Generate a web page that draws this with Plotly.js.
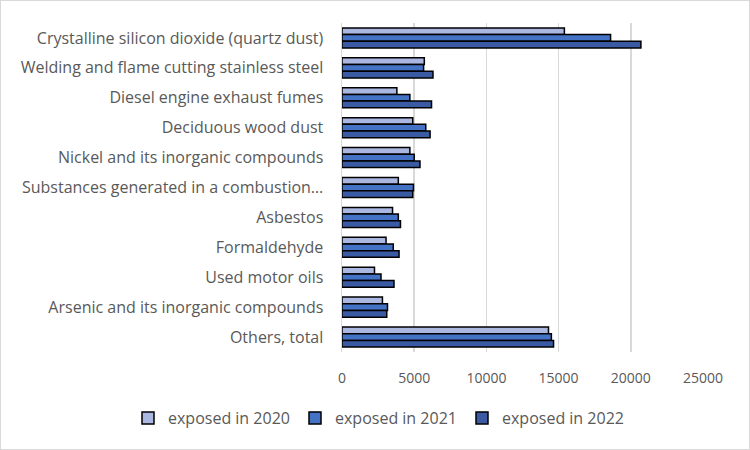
<!DOCTYPE html>
<html>
<head>
<meta charset="utf-8">
<script src="https://cdn.plot.ly/plotly-3.0.1.min.js"></script>
<style>
  html, body { margin: 0; padding: 0; background: #fff; }
  #wrap { position: relative; width: 750px; height: 450px; }
  #chart { width: 750px; height: 450px; }
  #frame { position: absolute; left: 0; top: 0; width: 748px; height: 448px; border: 1px solid #d9d9d9; pointer-events: none; }
</style>
</head>
<body>
<div id="wrap"><div id="chart"></div><div id="frame"></div></div>
<script>
const categories = [
  "Crystalline silicon dioxide (quartz dust)",
  "Welding and flame cutting stainless steel",
  "Diesel engine exhaust fumes",
  "Deciduous wood dust",
  "Nickel and its inorganic compounds",
  "Substances generated in a combustion…",
  "Asbestos",
  "Formaldehyde",
  "Used motor oils",
  "Arsenic and its inorganic compounds",
  "Others, total"
];
const exposed2020 = [15400, 5700, 3800, 4900, 4700, 3900, 3500, 3050, 2250, 2800, 14300];
const exposed2021 = [18600, 5650, 4700, 5800, 5000, 4950, 3900, 3550, 2700, 3150, 14500];
const exposed2022 = [20700, 6300, 6200, 6100, 5400, 4900, 4050, 3950, 3600, 3100, 14650];
const seriesNames = ["exposed in 2020", "exposed in 2021", "exposed in 2022"];
const xTicks = [0, 5000, 10000, 15000, 20000, 25000];

const colors = ["#aab7e0", "#4472c4", "#3a5ba3"];
const series = [exposed2020, exposed2021, exposed2022];
const font = "'Open Sans', sans-serif";

const traces = series.map((vals, i) => ({
  type: "bar",
  orientation: "h",
  name: seriesNames[i],
  y: categories,
  x: vals,
  marker: { color: colors[i], line: { color: "#000", width: 1.5 } },
  hoverinfo: "x+name"
}));

const layout = {
  width: 750, height: 450,
  margin: { l: 342, r: 47, t: 23, b: 98, autoexpand: false },
  paper_bgcolor: "#fff", plot_bgcolor: "#fff",
  font: { family: font, size: 14, color: "#595959" },
  barmode: "group",
  bargap: 0.33,
  bargroupgap: 0,
  xaxis: {
    range: [0, 25000],
    tickvals: xTicks,
    ticktext: xTicks.map(String),
    showgrid: true, gridcolor: "#d9d9d9", gridwidth: 1.5,
    zeroline: false, showline: false,
    ticks: "", ticklen: 0, ticklabelstandoff: 16,
    tickfont: { family: font, size: 14, color: "#595959" }
  },
  yaxis: {
    autorange: "reversed",
    showline: true, linecolor: "#d9d9d9", linewidth: 1.5,
    showgrid: false, zeroline: false,
    ticks: "", ticklabelstandoff: 14,
    tickfont: { family: font, size: 16, color: "#595959" }
  },
  showlegend: true,
  legend: {
    orientation: "h",
    x: -0.5928, xanchor: "left",
    y: -0.2006, yanchor: "middle",
    font: { family: font, size: 16, color: "#595959" },
    entrywidth: 122, entrywidthmode: "pixels",
    itemwidth: 30
  }
};

Plotly.newPlot("chart", traces, layout, { displayModeBar: false, staticPlot: true });
</script>
</body>
</html>
